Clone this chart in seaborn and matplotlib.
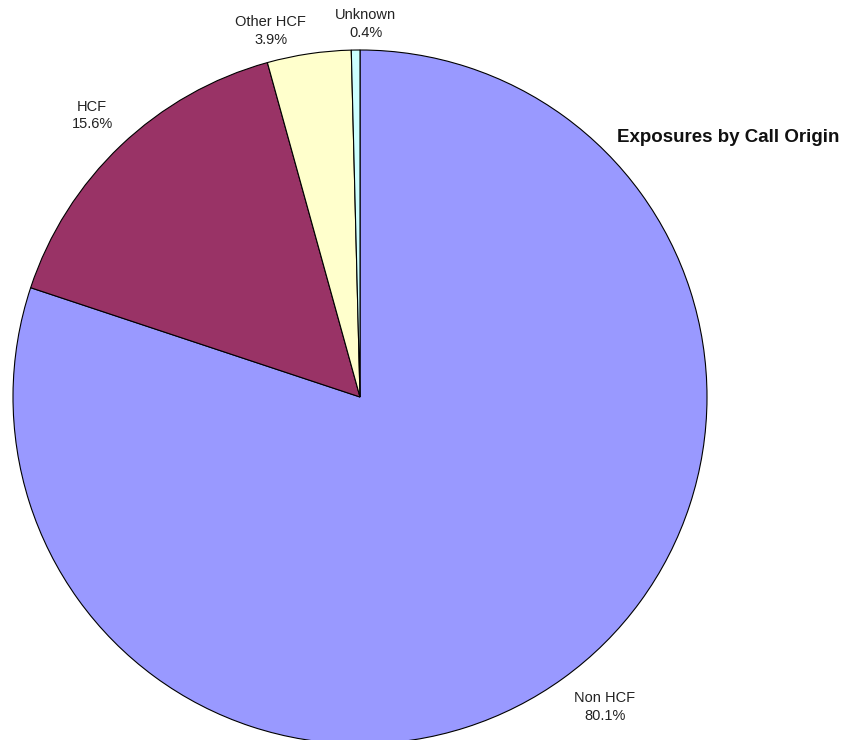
import numpy as np
import seaborn as sns
import matplotlib.pyplot as plt

categories = ['Non HCF', 'HCF', 'Other HCF', 'Unknown']
shares = [80.1, 15.6, 3.9, 0.4]
colors = ['#9999FF', '#993366', '#FFFFCC', '#CCFFFF']

sns.set_theme(style="white")
plt.rcParams['font.family'] = ['Liberation Sans', 'DejaVu Sans']

fig = plt.figure(figsize=(8.56, 7.4), dpi=100)
ax = fig.add_axes([0, 0, 1, 1])

labels = [f"{c}\n{v:.1f}%" for c, v in zip(categories, shares)]
wedges, texts = ax.pie(shares, labels=labels, colors=colors, startangle=90,
                       counterclock=False, center=(360, 343), radius=347,
                       labeldistance=1.12, frame=True,
                       wedgeprops=dict(edgecolor='black', linewidth=0.8),
                       textprops=dict(fontsize=10.5, color='#222222',
                                      linespacing=1.3))
ax.set_xlim(0, 856)
ax.set_ylim(0, 740)
ax.set_aspect('equal')
ax.axis('off')

# nudge labels a bit like the original
offsets = {'Non HCF': (0.05, 0.015), 'Other HCF': (-0.092, -0.053),
           'Unknown': (0.03, -0.045)}
for t, c in zip(texts, categories):
    t.set_ha('center')
    if c in offsets:
        x, y = t.get_position()
        dx, dy = offsets[c]
        t.set_position((x + dx * 347, y + dy * 347))

fig.text(617 / 856, 1 - 137 / 740, 'Exposures by Call Origin', fontsize=13.5,
         fontweight='bold', ha='left', va='center', color='#111111')

fig.savefig('out.png', dpi=100, facecolor='white')
